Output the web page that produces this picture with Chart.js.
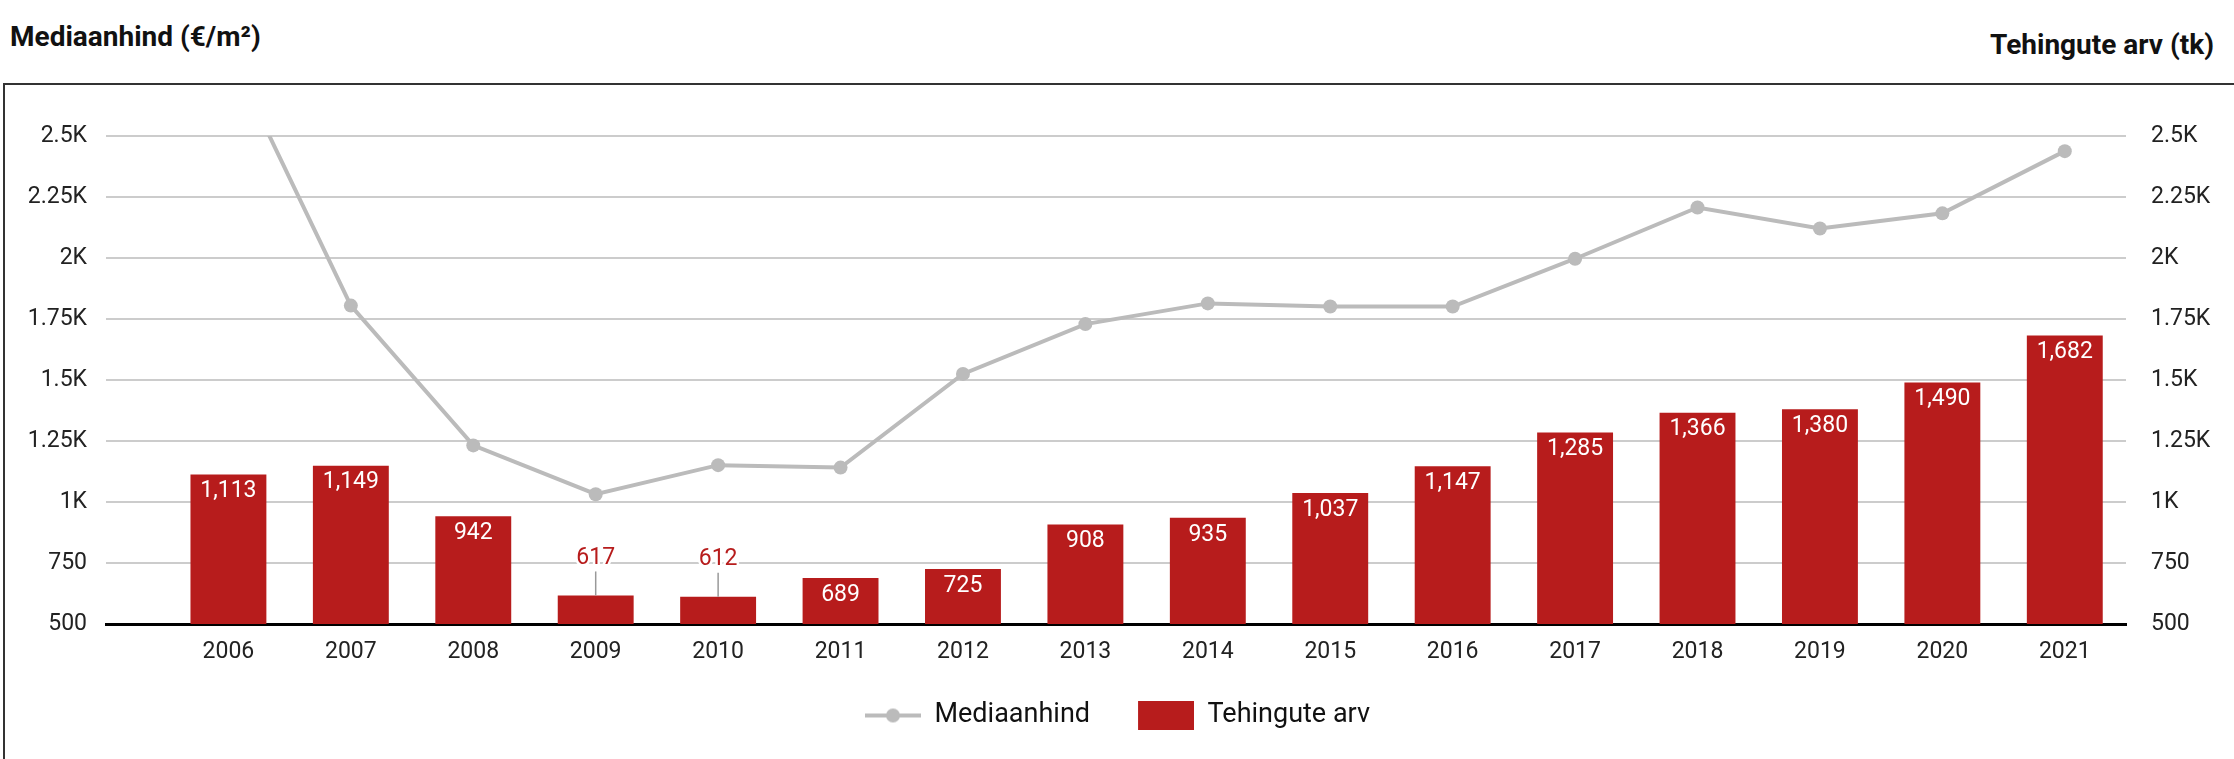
<!DOCTYPE html>
<html lang="et">
<head>
<meta charset="UTF-8">
<title>Mediaanhind ja tehingute arv</title>
<script src="https://cdn.jsdelivr.net/npm/chart.js"></script>
<style>
  html, body { margin: 0; padding: 0; background: #fff; }
  body { width: 2234px; height: 759px; position: relative; overflow: hidden; font-family: Roboto, sans-serif; }
  .axis-title { position: absolute; font-weight: 700; font-size: 28px; line-height: 1; color: #111; white-space: nowrap; }
  #leftTitle { left: 10px; top: 23px; }
  #rightTitle { right: 20px; top: 31px; }
  .frame { position: absolute; left: 3px; top: 83px; width: 2300px; height: 800px; border-top: 2px solid #333; border-left: 2px solid #333; }
  #chart { position: absolute; left: 0; top: 0; }
</style>
</head>
<body>
  <div class="axis-title" id="leftTitle">Mediaanhind (€/m²)</div>
  <div class="axis-title" id="rightTitle">Tehingute arv (tk)</div>
  <div class="frame"></div>
  <canvas id="chart" width="2234" height="759"></canvas>

<script>
  const years = [2006, 2007, 2008, 2009, 2010, 2011, 2012, 2013, 2014, 2015, 2016, 2017, 2018, 2019, 2020, 2021];
  const medianPrice = [2850, 1805, 1232, 1032, 1151, 1141, 1525, 1729, 1814, 1801, 1801, 1997, 2207, 2121, 2183, 2438];
  const dealCount = [1113, 1149, 942, 617, 612, 689, 725, 908, 935, 1037, 1147, 1285, 1366, 1380, 1490, 1682];
  const tickValues = [500, 750, 1000, 1250, 1500, 1750, 2000, 2250, 2500];
  const tickLabels = ['500', '750', '1K', '1.25K', '1.5K', '1.75K', '2K', '2.25K', '2.5K'];

  const red = '#b71c1c';
  const grey = '#bbbbbb';

  // legend symbols (drawn at the right of a wider transparent canvas to widen the gap between items)
  const ICON_GAP = 15;
  function lineIcon() {
    const c = document.createElement('canvas');
    c.width = 56 + ICON_GAP; c.height = 16;
    const g = c.getContext('2d');
    g.strokeStyle = grey; g.lineWidth = 4;
    g.beginPath(); g.moveTo(ICON_GAP, 8); g.lineTo(ICON_GAP + 56, 8); g.stroke();
    g.fillStyle = grey;
    g.beginPath(); g.arc(ICON_GAP + 28, 8, 7, 0, Math.PI * 2); g.fill();
    return c;
  }
  function barIcon() {
    const c = document.createElement('canvas');
    c.width = 56 + ICON_GAP; c.height = 29;
    const g = c.getContext('2d');
    g.fillStyle = red;
    g.fillRect(ICON_GAP, 0, 56, 29);
    return c;
  }

  // value labels: inside the bar top, or above with a leader line when the bar is short
  const barLabels = {
    id: 'barLabels',
    afterDatasetsDraw(chart) {
      const meta = chart.getDatasetMeta(1);
      const ctx = chart.ctx;
      const bottom = chart.chartArea.bottom;
      ctx.save();
      ctx.font = '23px Roboto';
      ctx.textAlign = 'center';
      ctx.textBaseline = 'middle';
      meta.data.forEach((bar, i) => {
        const txt = dealCount[i].toLocaleString('en-US');
        const h = bottom - bar.y;
        if (h >= 40) {
          ctx.fillStyle = '#fff';
          ctx.fillText(txt, bar.x, bar.y + 17);
        } else {
          ctx.strokeStyle = '#999';
          ctx.lineWidth = 1.5;
          ctx.beginPath();
          ctx.moveTo(bar.x, bar.y);
          ctx.lineTo(bar.x, bar.y - 24);
          ctx.stroke();
          ctx.lineWidth = 5;
          ctx.lineJoin = 'round';
          ctx.strokeStyle = '#fff';
          ctx.strokeText(txt, bar.x, bar.y - 37);
          ctx.fillStyle = red;
          ctx.fillText(txt, bar.x, bar.y - 37);
        }
      });
      ctx.restore();
    }
  };

  function draw() {
    Chart.defaults.font.family = 'Roboto';
    Chart.defaults.color = '#222';

    new Chart(document.getElementById('chart'), {
      data: {
        datasets: [
          {
            type: 'line',
            label: 'Mediaanhind',
            data: years.map((x, i) => ({ x: x, y: medianPrice[i] })),
            yAxisID: 'yPrice',
            borderColor: grey,
            backgroundColor: grey,
            borderWidth: 4,
            pointRadius: 7,
            pointHoverRadius: 7,
            pointBorderWidth: 0,
            pointBackgroundColor: grey,
            tension: 0,
            clip: 0,
            order: 0
          },
          {
            type: 'bar',
            label: 'Tehingute arv',
            data: years.map((x, i) => ({ x: x, y: dealCount[i] })),
            yAxisID: 'yCount',
            backgroundColor: red,
            barPercentage: 0.62,
            categoryPercentage: 1,
            order: 1
          }
        ]
      },
      options: {
        responsive: false,
        animation: false,
        devicePixelRatio: 1,
        layout: { padding: { left: 6, right: 20, top: 136, bottom: 20 } },
        scales: {
          x: {
            type: 'linear',
            min: 2005,
            max: 2021.5,
            offset: false,
            afterBuildTicks: s => { s.ticks = years.map(v => ({ value: v })); },
            afterFit: s => { s.height = 45; },
            grid: { display: false, drawTicks: false, offset: false },
            border: { color: '#000', width: 3 },
            ticks: {
              callback: v => String(v),
              padding: 14,
              color: '#222',
              font: { size: 23 },
              maxRotation: 0,
              autoSkip: false
            }
          },
          yPrice: {
            position: 'left',
            min: 500,
            max: 2500,
            afterBuildTicks: s => { s.ticks = tickValues.map(v => ({ value: v })); },
            afterFit: s => { s.width = 100; },
            grid: { color: '#cccccc', lineWidth: 2, drawTicks: false },
            border: { display: false },
            ticks: {
              padding: 19,
              color: '#222',
              font: { size: 23 },
              callback: v => tickLabels[tickValues.indexOf(v)]
            }
          },
          yCount: {
            position: 'right',
            min: 500,
            max: 2500,
            afterBuildTicks: s => { s.ticks = tickValues.map(v => ({ value: v })); },
            afterFit: s => { s.width = 88; },
            grid: { display: false, drawTicks: false },
            border: { display: false },
            ticks: {
              padding: 25,
              color: '#222',
              font: { size: 23 },
              callback: v => tickLabels[tickValues.indexOf(v)]
            }
          }
        },
        plugins: {
          tooltip: { enabled: false },
          legend: {
            position: 'bottom',
            labels: {
              usePointStyle: true,
              pointStyleWidth: 56 + ICON_GAP,
              padding: 33,
              color: '#111',
              font: { size: 27 },
              generateLabels(chart) {
                const items = Chart.defaults.plugins.legend.labels.generateLabels(chart);
                items.forEach(it => {
                  it.pointStyle = it.datasetIndex === 0 ? lineIcon() : barIcon();
                });
                return items;
              }
            }
          }
        }
      },
      plugins: [barLabels]
    });
  }

  if (document.fonts && document.fonts.load) {
    Promise.all([
      document.fonts.load('23px Roboto'),
      document.fonts.load('bold 28px Roboto')
    ]).then(draw, draw);
  } else {
    draw();
  }
</script>
</body>
</html>
